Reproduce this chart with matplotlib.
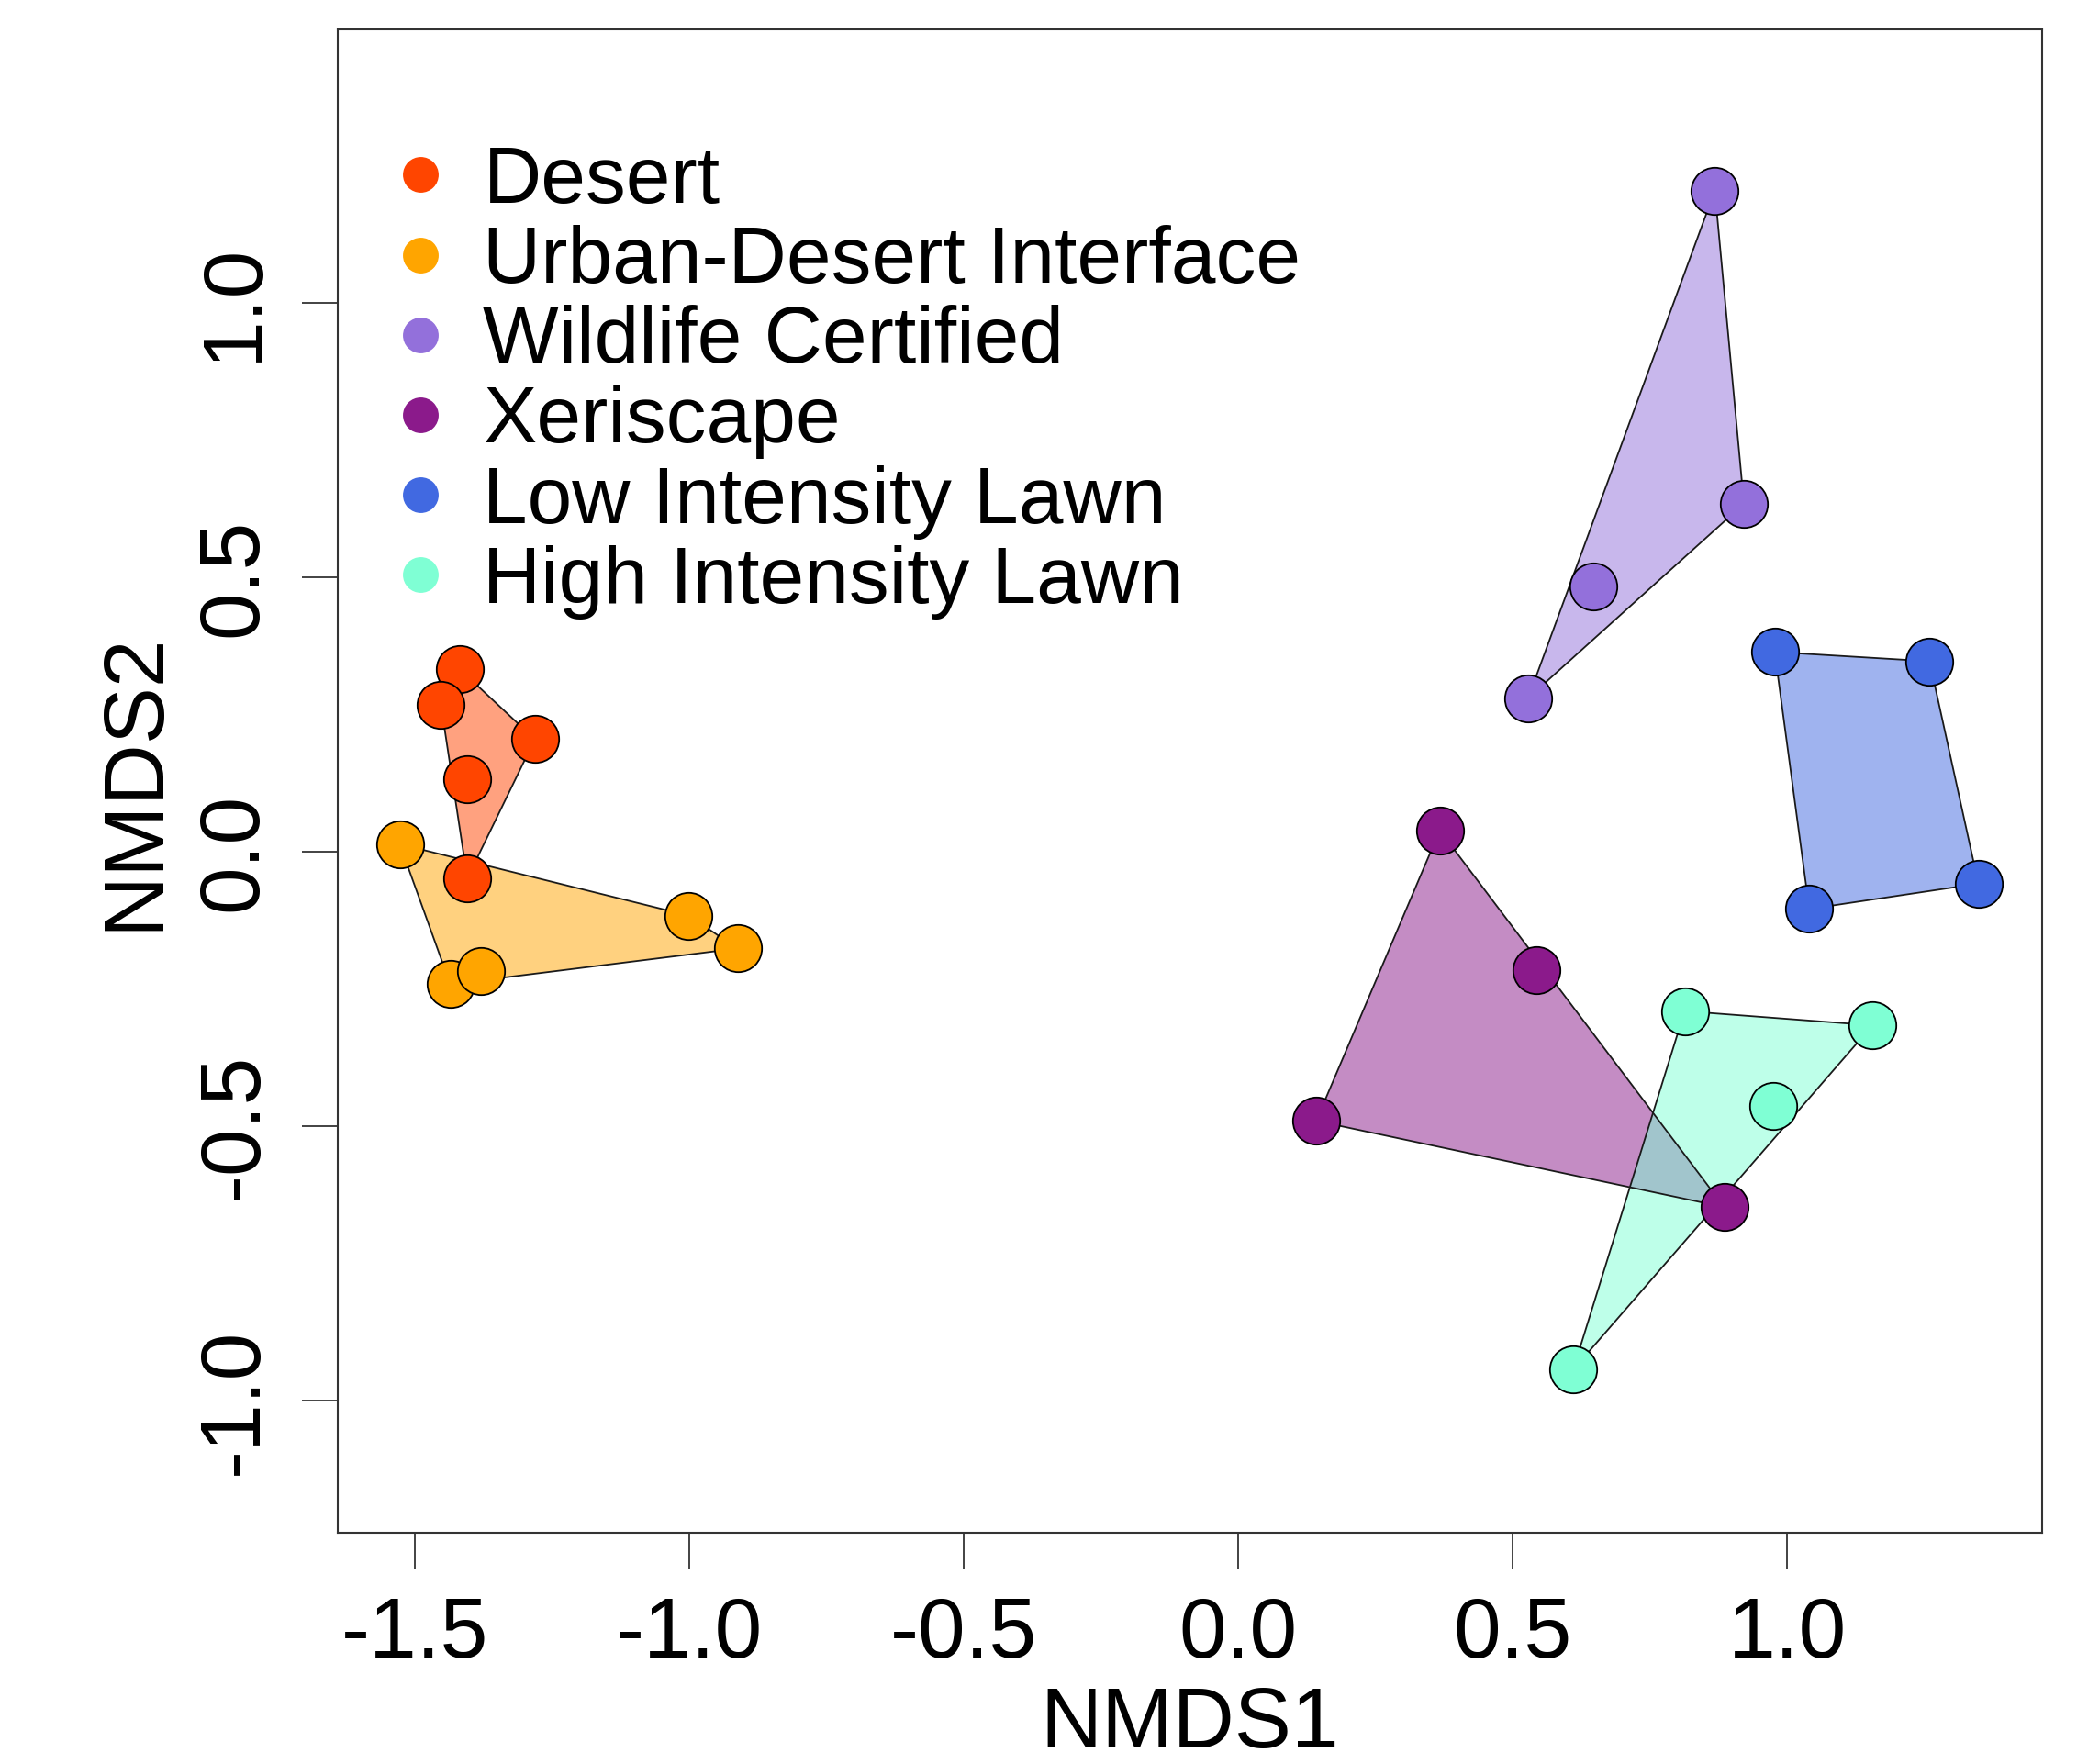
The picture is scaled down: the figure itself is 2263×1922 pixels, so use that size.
import matplotlib
matplotlib.use("Agg")
import matplotlib.pyplot as plt
from matplotlib.patches import Polygon
from matplotlib.lines import Line2D
import numpy as np

plt.rcParams['font.family'] = ['Liberation Sans', 'DejaVu Sans']

groups = ["Desert", "Urban-Desert Interface", "Wildlife Certified",
          "Xeriscape", "Low Intensity Lawn", "High Intensity Lawn"]
colors = ["#FF4500", "#FFA500", "#9370DB", "#8B1A8B", "#4169E1", "#7FFFD4"]

desert_x = [-1.418, -1.452, -1.281, -1.404, -1.404]
desert_y = [0.333, 0.268, 0.205, 0.133, -0.048]
urban_x = [-1.527, -1.001, -0.912, -1.435, -1.380]
urban_y = [0.014, -0.116, -0.176, -0.241, -0.217]
wild_x = [0.868, 0.921, 0.646, 0.528]
wild_y = [1.204, 0.634, 0.483, 0.280]
xeri_x = [0.367, 0.543, 0.142, 0.885]
xeri_y = [0.039, -0.215, -0.490, -0.647]
low_x = [0.977, 1.259, 1.348, 1.040]
low_y = [0.364, 0.347, -0.058, -0.104]
high_x = [0.813, 1.155, 0.974, 0.610]
high_y = [-0.290, -0.316, -0.463, -0.943]

xs = [desert_x, urban_x, wild_x, xeri_x, low_x, high_x]
ys = [desert_y, urban_y, wild_y, xeri_y, low_y, high_y]


def hull(pts):
    pts = sorted(map(tuple, pts))

    def cross(o, a, b):
        return (a[0] - o[0]) * (b[1] - o[1]) - (a[1] - o[1]) * (b[0] - o[0])

    lower = []
    for p in pts:
        while len(lower) >= 2 and cross(lower[-2], lower[-1], p) <= 0:
            lower.pop()
        lower.append(p)
    upper = []
    for p in reversed(pts):
        while len(upper) >= 2 and cross(upper[-2], upper[-1], p) <= 0:
            upper.pop()
        upper.append(p)
    return np.array(lower[:-1] + upper[:-1])


fig = plt.figure(figsize=(22.63, 19.22), dpi=100)
ax = fig.add_axes([0.1626, 0.1311, 0.8206, 0.8523])

# hulls first, then all points on top
for x, y, c in zip(xs, ys, colors):
    h = hull(np.column_stack([x, y]))
    ax.add_patch(Polygon(h, closed=True, facecolor=c, alpha=0.5,
                         edgecolor="none", zorder=1))
    ax.add_patch(Polygon(h, closed=True, facecolor="none",
                         edgecolor="#1a1a1a", lw=1.3, zorder=2))

for x, y, c in zip(xs, ys, colors):
    ax.scatter(x, y, s=37 ** 2, color=c, edgecolors="black",
               linewidths=1.3, zorder=3)

ax.set_xlim(-1.640, 1.464)
ax.set_ylim(-1.240, 1.498)
ax.set_xticks([-1.5, -1.0, -0.5, 0.0, 0.5, 1.0])
ax.set_yticks([-1.0, -0.5, 0.0, 0.5, 1.0])
ax.set_xticklabels(["-1.5", "-1.0", "-0.5", "0.0", "0.5", "1.0"])
ax.set_yticklabels(["-1.0", "-0.5", "0.0", "0.5", "1.0"], rotation=90, va="center")
ax.tick_params(length=28, width=1.2, labelsize=67, pad=22, color="#222222")
for s in ax.spines.values():
    s.set_linewidth(1.5)
    s.set_color("#333333")

ax.set_xlabel("NMDS1", fontsize=67, labelpad=8)
ax.set_ylabel("NMDS2", fontsize=67, labelpad=16)

handles = [Line2D([], [], marker="o", linestyle="none", markersize=28,
                  markerfacecolor=c, markeredgecolor="none") for c in colors]
ax.legend(handles, groups, loc="upper left", bbox_to_anchor=(0.025, 0.923),
          frameon=False, fontsize=63, handletextpad=0.28, labelspacing=0.07,
          handlelength=1.0, borderpad=0, borderaxespad=0)

plt.savefig("out.png", dpi=100)
